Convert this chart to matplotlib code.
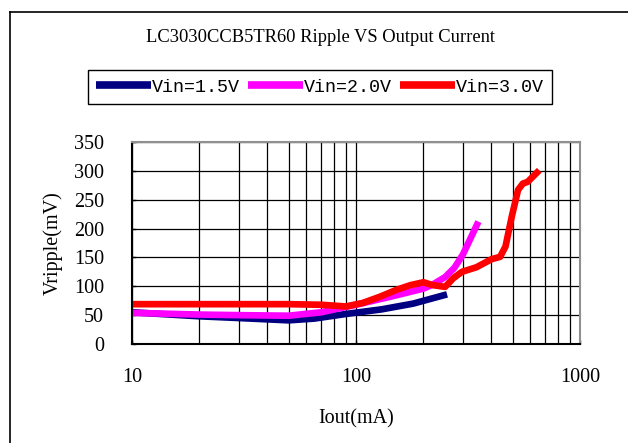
import matplotlib
matplotlib.use("Agg")
import matplotlib.pyplot as plt
from matplotlib.lines import Line2D

# values
i_15 = [10, 20, 30, 50, 65, 90, 130, 180, 255]
v_15 = [55, 48, 45, 41, 44, 52, 60, 70, 86]

i_20 = [10, 20, 30, 50, 70, 100, 150, 200, 220, 250, 275, 300, 330, 352]
v_20 = [54, 51, 50, 49, 55, 68, 84, 96, 103, 116, 132, 155, 189, 212]

i_30 = [10, 20, 50, 70, 90, 107, 128, 152, 175, 200, 220, 250, 272, 297,
        345, 403, 440, 465, 496, 529, 556, 584, 658]
v_30 = [69, 69, 69, 68, 65, 71, 82, 94, 102, 107, 102, 99, 114, 125,
        133, 147, 151, 169, 221, 267, 278, 281, 301]

labels = ["Vin=1.5V", "Vin=2.0V", "Vin=3.0V"]
colors = ["#000080", "#FF00FF", "#FF0000"]
y_ticks = [0, 50, 100, 150, 200, 250, 300, 350]
x_ticks = [10, 100, 1000]

serif = "Liberation Serif"

fig = plt.figure(figsize=(6.28, 4.43), dpi=100)
ax = fig.add_axes([132 / 628, 1 - 344 / 443, 448 / 628, 202 / 443])

series = [(i_15, v_15), (i_20, v_20), (i_30, v_30)]
for (x, y), lab, col in zip(series, labels, colors):
    ax.plot(x, y, color=col, lw=4.8, label=lab, solid_capstyle="butt",
            solid_joinstyle="round")

ax.set_xscale("log")
ax.set_xlim(10, 1000)
ax.set_ylim(0, 350)
ax.set_yticks(y_ticks)
ax.set_xticks(x_ticks)
ax.set_xticklabels([str(t) for t in x_ticks])
ax.grid(True, which="both", color="black", lw=0.9)
ax.tick_params(which="minor", length=0)
ax.tick_params(which="major", direction="in", length=3, width=1, labelsize=14.5)
ax.tick_params(axis="x", pad=17)
ax.tick_params(axis="y", pad=20)
for lab in ax.get_xticklabels() + ax.get_yticklabels():
    lab.set_fontfamily(serif)

for s in ["left", "bottom"]:
    ax.spines[s].set_color("black")
    ax.spines[s].set_linewidth(1.5)
for s in ["top", "right"]:
    ax.spines[s].set_color("#909090")
    ax.spines[s].set_linewidth(1.5)

ax.set_xlabel("Iout(mA)", fontsize=14.5, fontfamily=serif, labelpad=16)
ax.set_ylabel("Vripple(mV)", fontsize=14.5, fontfamily=serif, labelpad=8)

fig.text(320 / 628, 1 - 38 / 443, "LC3030CCB5TR60 Ripple VS Output Current",
         ha="center", va="center", fontsize=13.3, fontfamily=serif)

leg = ax.legend(loc="center", bbox_to_anchor=(320 / 628, 1 - 87 / 443),
                bbox_transform=fig.transFigure, ncol=3, frameon=True,
                fancybox=False, edgecolor="black", framealpha=1,
                prop={"family": "Liberation Mono", "size": 13.2},
                handlelength=3.0, handletextpad=0.05, columnspacing=0.45,
                borderpad=0.45, borderaxespad=0)
leg.get_frame().set_linewidth(1.0)
for ln in leg.get_lines():
    ln.set_linewidth(5.5)

# outer chart border
fig.add_artist(Line2D([10 / 628, 10 / 628], [0, 1 - 12 / 443], color="black",
                      lw=1.2, transform=fig.transFigure))
fig.add_artist(Line2D([10 / 628, 1], [1 - 12 / 443, 1 - 12 / 443], color="black",
                      lw=1.2, transform=fig.transFigure))

fig.savefig("out.png", dpi=100)
